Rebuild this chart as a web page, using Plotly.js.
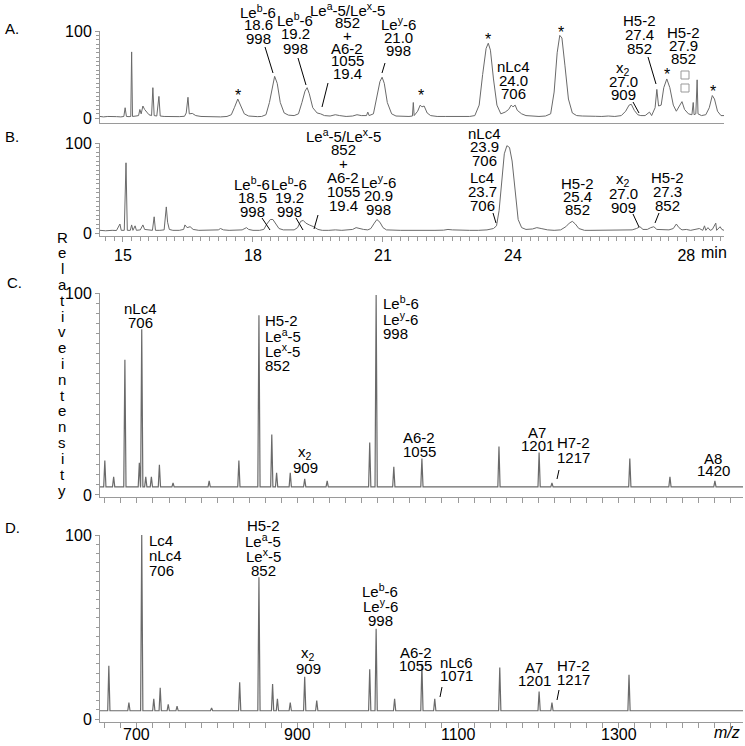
<!DOCTYPE html>
<html><head><meta charset="utf-8">
<script src="https://cdn.plot.ly/plotly-3.0.1.min.js"></script>
<style>body{margin:0;background:#fff}#c{width:745px;height:746px}</style>
</head><body><div id="c"></div>
<script>
// ---------- DATA ----------
// Chromatogram A: [retention time (min), relative intensity]
const chromA = [[14.47,2],[14.55,1.5],[14.65,2],[14.75,1.5],[14.85,1.8],[14.95,1.5],[15.02,2],[15.05,12],[15.08,2],[15.14,1.8],[15.18,2],[15.2,76],[15.22,2],[15.3,2.5],[15.36,3],[15.39,10],[15.42,5],[15.46,14],[15.5,10],[15.55,7],[15.6,4],[15.66,3],[15.69,35],[15.72,3],[15.78,2.5],[15.83,25],[15.86,2.5],[15.95,2],[16.05,1.8],[16.15,2],[16.3,1.8],[16.42,2.2],[16.46,6],[16.5,24],[16.53,5],[16.6,5.5],[16.68,3],[16.8,2],[16.95,1.6],[17.1,1.8],[17.25,1.5],[17.4,2],[17.5,4],[17.57,12],[17.65,22],[17.72,14],[17.8,5],[17.9,2.5],[18.0,2],[18.1,1.8],[18.2,2],[18.3,4],[18.38,18],[18.45,38],[18.5,48],[18.56,40],[18.63,18],[18.72,6],[18.82,3.5],[18.95,3],[19.05,5],[19.13,18],[19.2,31],[19.25,35],[19.3,28],[19.38,12],[19.48,6],[19.56,5],[19.65,3],[19.78,2.5],[19.9,4],[20.0,3],[20.15,2],[20.3,2.5],[20.4,4],[20.5,3],[20.62,3],[20.65,7],[20.68,3],[20.78,5],[20.87,25],[20.93,42],[20.98,47],[21.03,40],[21.1,18],[21.2,5],[21.3,2.5],[21.45,2],[21.6,2],[21.68,2.5],[21.7,18],[21.72,3],[21.8,8],[21.86,15],[21.9,13],[21.95,14],[22.02,6],[22.1,3],[22.25,2],[22.45,2],[22.6,1.8],[22.8,2.2],[23.0,2],[23.12,3],[23.22,15],[23.3,50],[23.38,80],[23.43,86],[23.48,78],[23.55,45],[23.63,15],[23.72,5],[23.82,7],[23.9,10],[23.96,15],[24.0,13],[24.05,15],[24.1,9],[24.2,5],[24.3,3],[24.45,2.5],[24.6,2],[24.75,2.5],[24.87,5],[24.95,30],[25.02,75],[25.08,95],[25.13,92],[25.2,60],[25.28,22],[25.37,6],[25.47,3],[25.6,2.5],[25.75,2],[25.9,2.2],[26.05,2],[26.2,2.5],[26.35,2],[26.5,3],[26.6,8],[26.68,15],[26.73,16],[26.8,9],[26.88,4],[26.95,3],[27.05,3],[27.15,7],[27.2,3],[27.28,12],[27.32,33],[27.36,14],[27.42,15],[27.48,35],[27.55,45],[27.62,35],[27.7,15],[27.77,8],[27.84,14],[27.9,19],[27.96,10],[28.05,5],[28.13,4],[28.16,18],[28.18,4],[28.22,5],[28.25,44],[28.27,5],[28.35,3],[28.45,4],[28.53,12],[28.6,26],[28.65,22],[28.72,8],[28.8,3],[28.87,3]];

// Chromatogram B
const chromB = [[14.47,3],[14.6,2.5],[14.75,3],[14.85,2.8],[14.93,10],[14.96,3],[15.03,3],[15.07,78],[15.1,3],[15.17,3],[15.2,9],[15.23,3],[15.28,8],[15.31,3],[15.4,3.5],[15.46,9],[15.5,4],[15.6,3],[15.68,3],[15.72,18],[15.75,3],[15.85,3],[15.95,3.5],[16.0,29],[16.03,12],[16.07,4],[16.15,3],[16.3,3],[16.4,4],[16.43,9],[16.48,6],[16.55,7],[16.62,4],[16.75,3],[16.9,3],[17.05,2.8],[17.2,3.5],[17.25,5],[17.32,3.5],[17.45,3],[17.6,3],[17.75,3.5],[17.85,6],[17.9,4],[18.0,3],[18.15,3],[18.25,4],[18.32,10],[18.4,15],[18.46,15],[18.53,10],[18.6,5],[18.7,3.5],[18.85,3],[18.95,3.5],[19.03,6],[19.1,13],[19.16,14],[19.22,11],[19.3,9],[19.4,7],[19.5,4],[19.6,3],[19.75,3],[19.9,3.5],[20.05,3],[20.2,3.5],[20.3,4],[20.38,6],[20.45,5],[20.55,4],[20.65,3.5],[20.72,5],[20.8,11],[20.86,15],[20.93,12],[21.0,6],[21.08,3.5],[21.2,3],[21.4,3],[21.6,3],[21.8,2.8],[22.0,3],[22.2,3],[22.4,3.2],[22.5,4],[22.6,3.5],[22.8,3],[23.0,3],[23.2,3],[23.4,3.5],[23.55,5],[23.62,8],[23.68,25],[23.74,60],[23.8,88],[23.86,97],[23.92,95],[23.98,80],[24.05,45],[24.12,15],[24.2,6],[24.3,4],[24.45,4.5],[24.55,6],[24.65,5],[24.8,3.5],[24.95,3],[25.1,3.5],[25.22,7],[25.3,11],[25.37,13],[25.44,10],[25.52,5],[25.65,3],[25.8,3],[26.0,3],[26.2,2.8],[26.4,3],[26.6,3],[26.75,3.5],[26.85,5],[26.93,7],[27.0,4],[27.1,4],[27.18,6],[27.25,7],[27.32,4],[27.45,3.5],[27.6,3.5],[27.7,5],[27.77,10],[27.83,6],[27.9,3.5],[28.0,4],[28.1,3],[28.2,4],[28.3,5],[28.38,3],[28.42,8],[28.45,3],[28.5,6],[28.55,3],[28.6,4],[28.68,11],[28.7,3],[28.78,7],[28.82,4],[28.87,3]];

// Mass spectrum C
const specC_mz  = [660,671,685,703,706,711,718,728,745,790,827,852,868,874,891,909,937,990,998,1020,1055,1151,1201,1217,1314,1364,1420];
const specC_int = [17, 9, 67, 16, 82, 9, 9, 15, 6, 7, 17, 89, 30, 11, 11, 8, 7, 26, 99, 14, 18, 24, 21, 6, 18, 9, 7];
const baseC = 4;
// Mass spectrum D
const specD_mz  = [665,690,706,721,729,739,750,793,828,852,869,875,891,909,924,990,998,1021,1055,1071,1152,1201,1217,1313];
const specD_int = [29, 9, 100, 11, 17, 8, 7, 6, 20, 77, 19, 11, 9, 23, 10, 27, 49, 11, 30, 11, 28, 15, 9, 24];
const baseD = 4.5;

const timeTicks = [15,18,21,24,28];
const mzTicks = [700,900,1100,1300];
const yTicks = [0,100];

// ---------- HELPERS ----------
const W=745,H=746;
const fx=p=>p/W, fy=p=>1-p/H;
const FONT='Liberation Sans, Arial, Helvetica, sans-serif';
const LC='#6a6a6a', AX='#9a9a9a';

function stickTrace(mz, inten, base, lo, hi){
  const idx = mz.map((_,i)=>i).sort((a,b)=>mz[a]-mz[b]);
  const x=[lo], y=[base];
  idx.forEach(i=>{ x.push(mz[i]-1.4, mz[i], mz[i]+1.4); y.push(base, inten[i], base); });
  x.push(hi); y.push(base);
  return {x,y};
}

const traces = [];
traces.push({x:chromA.map(d=>d[0]), y:chromA.map(d=>d[1]), xaxis:'x', yaxis:'y', mode:'lines', line:{color:LC,width:1}, hoverinfo:'skip'});
traces.push({x:chromB.map(d=>d[0]), y:chromB.map(d=>d[1]), xaxis:'x2', yaxis:'y2', mode:'lines', line:{color:LC,width:1}, hoverinfo:'skip'});
const sc = stickTrace(specC_mz, specC_int, baseC, 654, 1455);
traces.push({x:sc.x, y:sc.y, xaxis:'x3', yaxis:'y3', mode:'lines', line:{color:LC,width:1.2}, hoverinfo:'skip'});
const sd = stickTrace(specD_mz, specD_int, baseD, 654, 1455);
traces.push({x:sd.x, y:sd.y, xaxis:'x4', yaxis:'y4', mode:'lines', line:{color:LC,width:1.2}, hoverinfo:'skip'});

const minorY = {tickmode:'array', tickvals:[5,10,15,20,25,30,35,40,45,50,55,60,65,70,75,80,85,90,95], ticks:'outside', ticklen:3, tickcolor:AX, tickwidth:1};
function yax(domTop, domBot, lo){
  return {domain:[fy(domBot), fy(domTop)], range:[lo,100], showline:true, linecolor:AX, linewidth:1,
    tickmode:'array', tickvals:yTicks, ticktext:yTicks.map(String), ticks:'outside', ticklen:4, tickcolor:AX,
    tickfont:{family:FONT,size:16,color:'#000'}, showgrid:false, zeroline:false, minor:minorY, fixedrange:true};
}

const anns = [];
function txt(x, y, s, anchor, size, extra){
  anns.push(Object.assign({xref:'paper', yref:'paper', x:fx(x), y:fy(y), text:s, showarrow:false,
    xanchor:anchor||'center', yanchor:'middle', font:{family:FONT, size:size||15, color:'#000'}}, extra||{}));
}
function label(x, y0, pitch, lines, anchor){
  lines.forEach((s,i)=>txt(x, y0+i*pitch, s, anchor));
}
const shapes = [];
function leader(x0,y0,x1,y1){
  shapes.push({type:'line', xref:'paper', yref:'paper', x0:fx(x0), y0:fy(y0), x1:fx(x1), y1:fy(y1), line:{color:'#000', width:1}});
}

// Panel letters
txt(3,28,'A.','left',15); txt(3,136,'B.','left',15); txt(5,283,'C.','left',15); txt(3,527,'D.','left',15);

// Panel A labels
label(258,11,13.5,['Le<sup>b</sup>-6','18.6','998']);
label(295,19,14.5,['Le<sup>b</sup>-6','19.2','998']);
label(347,9,13,['Le<sup>a</sup>-5/Le<sup>x</sup>-5','852','+','A6-2','1055','19.4']);
label(398,23.5,13.5,['Le<sup>y</sup>-6','21.0','998']);
label(513,67,13.5,['nLc4','24.0','706']);
label(623,68,13.5,['x<sub>2</sub>','27.0','909']);
label(639,20,14,['H5-2','27.4','852']);
label(683,32,13.5,['H5-2','27.9','852']);
leader(265,47,273,73); leader(298,58,306,85); leader(328,83,322,107);
leader(385,63,382,73); leader(633,102,639,113); leader(648,57,656,84);
// asterisks in A
[[238,92],[421,92],[488,35],[561,28],[667,71],[713,88]].forEach(p=>txt(p[0],p[1]+4,'*','center',16));
// open squares in A
shapes.push({type:'rect', xref:'paper', yref:'paper', x0:fx(681), x1:fx(689), y0:fy(71), y1:fy(79), line:{color:'#999',width:1}});
shapes.push({type:'rect', xref:'paper', yref:'paper', x0:fx(681), x1:fx(689), y0:fy(84), y1:fy(92), line:{color:'#999',width:1}});

// Panel B labels
label(252,183,14,['Le<sup>b</sup>-6','18.5','998']);
label(289,183,14,['Le<sup>b</sup>-6','19.2','998']);
label(343,135,14,['Le<sup>a</sup>-5/Le<sup>x</sup>-5','852','+','A6-2','1055','19.4']);
label(378,182,13.5,['Le<sup>y</sup>-6','20.9','998']);
label(485,133,13.5,['nLc4','23.9','706']);
label(482,178,13.5,['Lc4','23.7','706']);
label(577,183,13.5,['H5-2','25.4','852']);
label(623,180,13.5,['x<sub>2</sub>','27.0','909']);
label(667,178,13.5,['H5-2','27.3','852']);
leader(262,218,270,230); leader(296,218,303,230); leader(318,215,314,229);
leader(493,213,496,223); leader(633,214,639,227); leader(659,213,655,223);
txt(714,252,'min','center',16);

// Panel C labels
label(140,308,14,['nLc4','706']);
label(263,320,15,['H5-2','Le<sup>a</sup>-5','Le<sup>x</sup>-5','852'],'left');
label(305,453,14.5,['x<sub>2</sub>','909']);
label(381,303,15,['Le<sup>b</sup>-6','Le<sup>y</sup>-6','998'],'left');
label(419,438,14,['A6-2','1055']);
label(537,432,13.5,['A7','1201']);
label(573,443,14.5,['H7-2','1217']);
label(713,458,12.5,['A8','1420']);
leader(559,470,557,479);

// Panel D labels
label(147,540,15,['Lc4','nLc4','706'],'left');
label(263,525,15,['H5-2','Le<sup>a</sup>-5','Le<sup>x</sup>-5','852']);
label(308,653,15,['x<sub>2</sub>','909']);
label(380,590,15,['Le<sup>b</sup>-6','Le<sup>y</sup>-6','998']);
label(416,652,13.5,['A6-2','1055']);
label(456,662,13.5,['nLc6','1071']);
label(534,667,13.5,['A7','1201']);
label(573,665,14.5,['H7-2','1217']);
leader(442,687,440,697); leader(559,690,557,700);
txt(727,732,'<i>m/z</i>','center',16);
// D m/z tick labels, placed on the x4 data scale
mzTicks.forEach(v=>anns.push({xref:'x4', yref:'paper', x:v, y:fy(734), text:String(v), showarrow:false,
  xanchor:'center', yanchor:'middle', font:{family:FONT,size:16,color:'#000'}}));

// vertical stacked y-title
const yTitle = 'Relativeintensity'.split('');
yTitle.forEach((ch,i)=>txt(62, 237 + i*(253/(yTitle.length-1)), ch, 'center', 15));

const xAB = [fx(100), fx(724)];
const xCD = [fx(100), fx(743)];
const layout = {
  width:W, height:H, margin:{l:0,r:0,t:0,b:0}, paper_bgcolor:'#fff', plot_bgcolor:'rgba(0,0,0,0)', showlegend:false,
  xaxis:{domain:xAB, range:[14.47,28.87], anchor:'y', showline:true, linecolor:AX, ticks:'', showticklabels:false, showgrid:false, zeroline:false},
  yaxis:Object.assign(yax(31,123,-5.5),{anchor:'x'}),
  xaxis2:{domain:xAB, range:[14.47,28.87], anchor:'y2', showline:true, linecolor:AX, tickmode:'array', tickvals:timeTicks, ticktext:timeTicks.map(String),
    ticks:'outside', ticklen:5, tickcolor:AX, tickfont:{family:FONT,size:16,color:'#000'}, showgrid:false, zeroline:false,
    minor:{dtick:0.2, tick0:0, ticks:'outside', ticklen:4, tickcolor:AX}},
  yaxis2:Object.assign(yax(143,236,-3.3),{anchor:'x2'}),
  xaxis3:{domain:xCD, range:[654,1455], anchor:'y3', showline:true, linecolor:AX, tickmode:'array', tickvals:mzTicks, showticklabels:false,
    ticks:'outside', ticklen:5, tickcolor:AX, showgrid:false, zeroline:false, minor:{dtick:20, tick0:0, ticks:'outside', ticklen:5, tickcolor:AX}},
  yaxis3:Object.assign(yax(293,497,-1),{anchor:'x3'}),
  xaxis4:{domain:xCD, range:[654,1455], anchor:'y4', showline:true, linecolor:AX, tickmode:'array', tickvals:mzTicks, showticklabels:false,
    ticks:'outside', ticklen:5, tickcolor:AX, showgrid:false, zeroline:false,
    minor:{dtick:20, tick0:0, ticks:'outside', ticklen:5, tickcolor:AX}},
  yaxis4:Object.assign(yax(535,722,-1.6),{anchor:'x4'}),
  annotations:anns, shapes:shapes
};
Plotly.newPlot('c', traces, layout, {staticPlot:true, displayModeBar:false});
</script>
</body></html>
